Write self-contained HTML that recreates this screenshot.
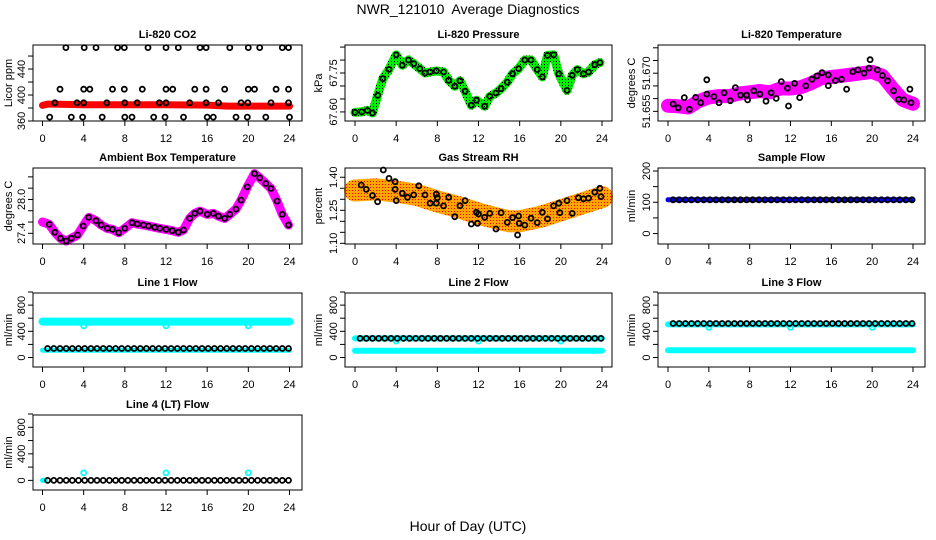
<!DOCTYPE html>
<html><head><meta charset="utf-8">
<style>
html,body{margin:0;padding:0;background:#fff;}
svg{display:block;font-family:"Liberation Sans",Arial,sans-serif;}
</style></head>
<body>
<svg id="chart" width="936" height="540" viewBox="0 0 936 540" xmlns="http://www.w3.org/2000/svg">
<defs>
<pattern id="greenPat" width="3" height="3" patternUnits="userSpaceOnUse"><rect width="3" height="3" fill="#00ee00"/><rect x="1" y="1" width="1" height="1" fill="#000"/></pattern>
<pattern id="orangePat" width="3" height="3" patternUnits="userSpaceOnUse"><rect width="3" height="3" fill="#ffa500"/><rect x="1" y="1" width="1" height="1" fill="#ff0000"/></pattern>
</defs>
<rect width="936" height="540" fill="#fff"/>
<text x="468" y="14" text-anchor="middle" font-size="14">NWR_121010&#160; Average Diagnostics</text>
<text x="468" y="531" text-anchor="middle" font-size="14">Hour of Day (UTC)</text>
</svg>
<script>
// ---------- data ----------
const xTicks = [0,4,8,12,16,20,24];

const co2Hours = [2.27,4.05,5.2,7.3,7.95,10.25,12.0,13.2,15.3,15.9,18.2,20.0,21.1,23.3,23.9,
  1.7,4.0,4.6,6.8,7.95,9.7,12.0,12.65,14.8,15.9,17.7,20.0,20.6,22.7,23.9,
  1.2,3.35,4.0,6.25,8.0,9.2,11.35,12.0,14.3,15.9,17.1,19.3,19.95,22.2,23.9,
  0.7,2.8,3.9,5.8,8.0,8.7,10.8,11.9,13.7,16.0,16.6,18.8,19.9,21.7,24.0];
const co2Vals = [473,473,473,473,473,473,473,473,473,473,473,473,473,473,473,
  409,409,409,409,409,409,409,409,409,409,409,409,409,409,409,
  388,388,388,388,388,388,388,388,388,388,388,388,388,388,388,
  366,366,366,366,366,366,366,366,366,366,366,366,366,366,366];
const co2BandHours = [0,0.5,1,4,8,12,16,18,20,24];
const co2BandVals = [384,386,386,385,385,385,384.5,383,383,383];

const presHours = [0,0.65,1.2,1.7,2.2,2.7,3.3,4.0,4.6,5.2,5.7,6.3,6.8,7.3,7.9,8.6,9.1,9.7,10.2,10.7,11.3,11.8,12.6,13.1,13.7,14.2,14.8,15.3,15.9,16.5,17.1,17.7,18.2,18.7,19.3,19.8,20.6,21.1,21.6,22.2,22.7,23.3,23.8];
const presVals = [67.598,67.60,67.606,67.596,67.664,67.728,67.764,67.82,67.78,67.80,67.786,67.767,67.75,67.754,67.758,67.754,67.722,67.699,67.72,67.68,67.626,67.645,67.622,67.66,67.673,67.69,67.715,67.747,67.767,67.80,67.80,67.763,67.735,67.818,67.82,67.747,67.683,67.741,67.763,67.747,67.754,67.782,67.79];

const tempHours = [0.5,1.0,1.6,2.1,2.7,3.2,3.8,3.8,4.5,5.0,5.5,6.1,6.6,7.1,7.7,7.8,8.4,9.0,9.6,10.1,10.6,11.1,11.7,11.8,12.4,12.9,13.5,14.1,14.6,15.1,15.7,15.7,16.4,17.0,17.5,18.1,18.6,19.2,19.7,19.8,20.5,21.0,21.5,22.1,22.6,23.1,23.7,23.8];
const tempVals = [51.6579,51.6564,51.6604,51.6558,51.6605,51.6584,51.6674,51.6618,51.6608,51.6584,51.6623,51.6592,51.6643,51.6614,51.6614,51.6595,51.6631,51.6618,51.659,51.6623,51.6601,51.6667,51.6641,51.6571,51.666,51.6604,51.665,51.6676,51.6689,51.6702,51.6693,51.6651,51.6671,51.6676,51.6637,51.6706,51.6713,51.67,51.672,51.6753,51.6713,51.6691,51.667,51.6631,51.6597,51.6595,51.6637,51.6584];
const tempBandHours = [0,1,2,3,4,5,6,7,8,9,10,11,12,13,14,15,16,17,18,19,20,21,22,23,24];
const tempBandVals = [51.6572,51.6570,51.6565,51.659,51.6605,51.661,51.661,51.662,51.6625,51.663,51.6625,51.664,51.664,51.6645,51.666,51.668,51.6685,51.669,51.6695,51.670,51.6705,51.669,51.664,51.6595,51.658];

const ambHours = [0,0.65,1.2,1.75,2.3,2.8,3.4,3.95,4.5,5.2,5.7,6.3,6.8,7.4,8.0,8.7,9.2,9.8,10.3,10.9,11.4,12.0,12.6,13.2,13.7,14.3,14.8,15.3,16.0,16.6,17.1,17.7,18.2,18.8,19.3,19.9,20.6,21.1,21.7,22.2,22.8,23.3,23.9];
const ambVals = [27.6,27.559,27.418,27.312,27.265,27.312,27.371,27.529,27.682,27.623,27.547,27.488,27.47,27.412,27.488,27.588,27.565,27.547,27.529,27.506,27.488,27.47,27.447,27.418,27.459,27.665,27.753,27.794,27.735,27.753,27.706,27.665,27.735,27.829,27.988,28.223,28.458,28.382,28.282,28.194,27.97,27.735,27.547];

const rhHours = [0.6,1.1,1.7,2.2,2.75,3.3,3.9,3.9,4.0,4.6,5.1,5.7,6.2,6.8,7.3,7.9,7.9,8.0,8.6,9.1,9.7,10.2,10.7,11.3,11.8,11.9,12.0,12.6,13.1,13.7,14.2,14.8,15.3,15.8,15.9,15.95,16.5,17.1,17.7,18.2,18.7,19.3,19.8,19.9,20.6,21.1,21.7,22.2,22.7,23.3,23.8,23.9];
const rhVals = [1.365,1.345,1.317,1.289,1.433,1.395,1.38,1.345,1.294,1.327,1.309,1.32,1.361,1.32,1.282,1.282,1.323,1.307,1.27,1.309,1.221,1.271,1.294,1.188,1.241,1.191,1.233,1.218,1.236,1.165,1.239,1.195,1.217,1.138,1.224,1.191,1.183,1.214,1.194,1.241,1.211,1.27,1.282,1.239,1.294,1.236,1.307,1.302,1.305,1.332,1.35,1.312];
const rhBandHours = [0,2,4,6,8,10,12,14,15,16,18,20,22,24];
const rhBandVals = [1.34,1.345,1.335,1.32,1.29,1.265,1.235,1.21,1.20,1.20,1.22,1.25,1.28,1.31];

const flowHours = [0.5,1.1,1.7,2.3,2.9,3.5,4.1,4.7,5.3,5.9,6.5,7.1,7.7,8.3,8.9,9.5,10.1,10.7,11.3,11.9,12.5,13.1,13.7,14.3,14.9,15.5,16.1,16.7,17.3,17.9,18.5,19.1,19.7,20.3,20.9,21.5,22.1,22.7,23.3,23.9];
const sampleBlack = [108,108,108,108,108,108,108,108,108,108,108,108,108,108,108,108,108,108,108,108,108,108,108,108,108,108,108,108,108,108,108,108,108,108,108,108,108,108,108,108];
const line1Black = [138,138,138,138,138,138,138,138,138,138,138,138,138,138,138,138,138,138,138,138,138,138,138,138,138,138,138,138,138,138,138,138,138,138,138,138,138,138,138,138];
const line2Black = [292,292,292,292,292,292,292,292,292,292,292,292,292,292,292,292,292,292,292,292,292,292,292,292,292,292,292,292,292,292,292,292,292,292,292,292,292,292,292,292];
const line3Black = [520,520,520,520,520,520,520,520,520,520,520,520,520,520,520,520,520,520,520,520,520,520,520,520,520,520,520,520,520,520,520,520,520,520,520,520,520,520,520,520];
const line4Black = [0,0,0,0,0,0,0,0,0,0,0,0,0,0,0,0,0,0,0,0,0,0,0,0,0,0,0,0,0,0,0,0,0,0,0,0,0,0,0,0];

const bandHours = [0,24];
const sampleBand = [108,108];
const line1Upper = [548,548];
const line1Lower = [112,112];
const line2Upper = [292,292];
const line2Lower = [102,102];
const line3Upper = [505,505];
const line3Lower = [112,112];
const line4Band = [0,0];

const dipHours = [4,12,20];
const line1Dips = [482,482,482];
const line2Dips = [250,250,250];
const line3Dips = [460,460,460];
const line4Dips = [112,112,112];

// ---------- drawing ----------
const NS = "http://www.w3.org/2000/svg";
const svg = document.getElementById('chart');
function mk(tag, attrs, parent){
  const e = document.createElementNS(NS, tag);
  for (const k in attrs) e.setAttribute(k, attrs[k]);
  (parent||svg).appendChild(e);
  return e;
}
const COLS = [{bx0:33,bx1:302,x0:42.5,x24:289.5,lab:8},{bx0:345,bx1:612,x0:355,x24:602,lab:318},{bx0:658,bx1:925,x0:668,x24:913,lab:631}];
const ROWS = [{by0:45,by1:121},{by0:168,by1:244},{by0:293,by1:367},{by0:415,by1:490}];

function makePanel(name, col, row, lo, hi, ticks, labels, title, ylab){
  const c = COLS[col], r = ROWS[row];
  const g = mk('g', {});
  
  
  const p = {g, sx: h => c.x0 + h*(c.x24-c.x0)/24, sy: v => r.by1 - (v-lo)/(hi-lo)*(r.by1-r.by0)};
  const t = mk('text', {x:(c.bx0+c.bx1)/2, y:r.by0-7, 'text-anchor':'middle', 'font-size':11, 'font-weight':'bold'}, g);
  t.textContent = title;
  
  
  const yl = mk('text', {transform:`translate(${c.lab+4},${(r.by0+r.by1)/2}) rotate(-90)`, 'text-anchor':'middle', 'font-size':11}, g);
  yl.textContent = ylab;
  
  
  xTicks.forEach(h => {
    const x = p.sx(h);
    mk('line', {x1:x, x2:x, y1:r.by1, y2:r.by1+5, stroke:'#000'}, g);
    const tl = mk('text', {x:x, y:r.by1+21, 'text-anchor':'middle', 'font-size':11}, g);
    tl.textContent = h;
    
    
  });
  ticks.forEach(v => {
    const y = p.sy(v);
    mk('line', {x1:c.bx0-5, x2:c.bx0, y1:y, y2:y, stroke:'#000'}, g);
  });
  labels.forEach(lbl => {
    const y = p.sy(parseFloat(lbl));
    const tl = mk('text', {transform:`translate(${c.bx0-8},${y}) rotate(-90)`, 'text-anchor':'middle', 'font-size':11}, g);
    tl.textContent = lbl;
    
    
  });
  p.data = mk('g', {}, g);
  const box = mk('rect', {x:c.bx0, y:r.by0, width:c.bx1-c.bx0, height:r.by1-r.by0, fill:'none', stroke:'#000'}, g);
  
  
  return p;
}
function band(p, hs, vs, stroke, w, name){
  const pts = hs.map((h,i)=>p.sx(h).toFixed(1)+','+p.sy(vs[i]).toFixed(1)).join(' ');
  const pl = mk('polyline', {points:pts, fill:'none', stroke:stroke, 'stroke-width':w, 'stroke-linejoin':'round', 'stroke-linecap':'round'}, p.data);
  
  
}
function circles(p, hs, vs, color, name, r, sw){
  hs.forEach((h,i)=>{
    const c = mk('circle', {cx:p.sx(h).toFixed(1), cy:p.sy(vs[i]).toFixed(1), r:r||2.5, fill:'none', stroke:color, 'stroke-width':sw||1.8}, p.data);
    
    
  });
}

// Panel 1: CO2
let p = makePanel('co2-panel',0,0,360,477,[360,380,400,420,440,460],['360','400','440'],'Li-820 CO2','Licor ppm');
band(p, co2BandHours, co2BandVals, '#ff0000', 7, 'co2-band');
circles(p, co2Hours, co2Vals, '#000', 'co2-point');

// Panel 2: Pressure
p = makePanel('pressure-panel',1,0,67.565,67.858,[67.60,67.65,67.70,67.75,67.80,67.85],['67.60','67.75'],'Li-820 Pressure','kPa');
band(p, presHours, presVals, 'url(#greenPat)', 9, 'pressure-band');
circles(p, presHours, presVals, '#000', 'pressure-point');

// Panel 3: Li-820 temperature
p = makePanel('li820-temp-panel',2,0,51.6512,51.6811,[51.655,51.66,51.665,51.67,51.675,51.68],['51.655','51.670'],'Li-820 Temperature','degrees C');
band(p, tempBandHours, tempBandVals, '#ff00ff', 14, 'li820-temp-band');
circles(p, tempHours, tempVals, '#000', 'li820-temp-point');

// Panel 4: Ambient box temperature
p = makePanel('ambient-temp-panel',0,1,27.211,28.557,[27.4,27.6,27.8,28.0,28.2,28.4],['27.4','28.0'],'Ambient Box Temperature','degrees C');
band(p, ambHours, ambVals, '#ff00ff', 9, 'ambient-temp-band');
circles(p, ambHours.slice(1), ambVals.slice(1), '#000', 'ambient-temp-point');

// Panel 5: Gas stream RH
p = makePanel('rh-panel',1,1,1.097,1.442,[1.10,1.15,1.20,1.25,1.30,1.35,1.40],['1.10','1.25','1.40'],'Gas Stream RH','percent');
band(p, rhBandHours, rhBandVals, 'url(#orangePat)', 22, 'rh-band');
circles(p, rhHours, rhVals, '#000', 'rh-point');

// Panel 6: Sample flow
p = makePanel('sample-flow-panel',2,1,-33.5,209.6,[0,50,100,150,200],['0','100','200'],'Sample Flow','ml/min');
band(p, bandHours, sampleBand, '#0000ff', 5, 'sample-flow-band');
circles(p, flowHours, sampleBlack, '#000', 'sample-flow-point');

const flowTicks = [0,200,400,600,800,1000], flowLabels = ['0','400','800'];
// Panel 7: Line 1
p = makePanel('line1-flow-panel',0,2,-145,985,flowTicks,flowLabels,'Line 1 Flow','ml/min');
band(p, bandHours, line1Upper, '#00ffff', 8, 'line1-upper-band');
band(p, bandHours, line1Lower, '#00ffff', 5, 'line1-lower-band');
circles(p, dipHours, line1Dips, '#00ffff', 'line1-dip');
circles(p, flowHours, line1Black, '#000', 'line1-point');

// Panel 8: Line 2
p = makePanel('line2-flow-panel',1,2,-145,985,flowTicks,flowLabels,'Line 2 Flow','ml/min');
band(p, bandHours, line2Upper, '#00ffff', 6, 'line2-upper-band');
band(p, bandHours, line2Lower, '#00ffff', 6, 'line2-lower-band');
circles(p, dipHours, line2Dips, '#00ffff', 'line2-dip');
circles(p, flowHours, line2Black, '#000', 'line2-point');

// Panel 9: Line 3
p = makePanel('line3-flow-panel',2,2,-145,985,flowTicks,flowLabels,'Line 3 Flow','ml/min');
band(p, bandHours, line3Upper, '#00ffff', 6, 'line3-upper-band');
band(p, bandHours, line3Lower, '#00ffff', 6, 'line3-lower-band');
circles(p, dipHours, line3Dips, '#00ffff', 'line3-dip');
circles(p, flowHours, line3Black, '#000', 'line3-point');

// Panel 10: Line 4
p = makePanel('line4-flow-panel',0,3,-145,985,flowTicks,flowLabels,'Line 4 (LT) Flow','ml/min');
band(p, [0,0.3], line4Band, '#00ffff', 5, 'line4-band');
circles(p, dipHours, line4Dips, '#00ffff', 'line4-dip');
circles(p, flowHours, line4Black, '#000', 'line4-point');
</script>
</body></html>
